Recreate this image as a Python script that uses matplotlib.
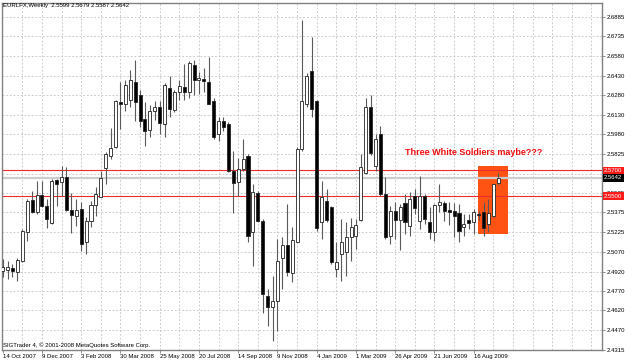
import matplotlib
matplotlib.use("Agg")
import matplotlib.pyplot as plt
from matplotlib.patches import Rectangle

# ---------------- data ----------------
title = "EURLFX,Weekly  2.5599 2.5679 2.5587 2.5642"
footer = "SIGTrader 4, \u00a9 2001-2008 MetaQuotes Software Corp."
annotation = "Three White Soldiers maybe???"

opens = [2.4927, 2.4934, 2.4950, 2.4919, 2.5003, 2.5226, 2.5471, 2.5379, 2.5510, 2.5425,
         2.5295, 2.5625, 2.5609, 2.5648, 2.5395, 2.5349, 2.5402, 2.5149, 2.5310, 2.5433,
         2.5494, 2.5717, 2.5809, 2.5878, 2.6223, 2.6215, 2.6246, 2.6384, 2.6277, 2.6093,
         2.6008, 2.6154, 2.6192, 2.6054, 2.6338, 2.6162, 2.6300, 2.6346, 2.6307, 2.6514,
         2.6399, 2.6407, 2.6384, 2.6238, 2.5977, 2.6077, 2.6054, 2.5694, 2.5609, 2.5709,
         2.5809, 2.5226, 2.5525, 2.5310, 2.4735, 2.4643, 2.4689, 2.5026, 2.5126, 2.4911,
         2.5149, 2.5862, 2.6208, 2.6468, 2.6238, 2.5303, 2.5464, 2.5418, 2.4942, 2.5057,
         2.5072, 2.5188, 2.5195, 2.5318, 2.5678, 2.6185, 2.5732, 2.5977, 2.5517, 2.5195,
         2.5387, 2.5318, 2.5448, 2.5272, 2.5502, 2.5310, 2.5502, 2.5303, 2.5226, 2.5433,
         2.5448, 2.5395, 2.5387, 2.5372, 2.5264, 2.5318, 2.5303, 2.5364, 2.5379, 2.5287,
         2.5349, 2.5599]
highs = [2.5019, 2.5003, 2.4980, 2.5026, 2.5249, 2.5479, 2.5540, 2.5617, 2.5617, 2.5479,
         2.5632, 2.5632, 2.5732, 2.5724, 2.5525, 2.5479, 2.5456, 2.5341, 2.5464, 2.5571,
         2.5694, 2.5839, 2.6024, 2.6246, 2.6384, 2.6399, 2.6476, 2.6553, 2.6323, 2.6223,
         2.6200, 2.6238, 2.6231, 2.6376, 2.6430, 2.6323, 2.6399, 2.6522, 2.6545, 2.6553,
         2.6461, 2.6491, 2.6576, 2.6254, 2.6108, 2.6108, 2.6070, 2.5847, 2.5793, 2.5939,
         2.5824, 2.5594, 2.5540, 2.5326, 2.4789, 2.4888, 2.5172, 2.5188, 2.5441, 2.5264,
         2.5878, 2.6860, 2.6453, 2.6729, 2.6246, 2.5617, 2.5556, 2.5425, 2.5149, 2.5326,
         2.5303, 2.5333, 2.5326, 2.5824, 2.6261, 2.6277, 2.5977, 2.6039, 2.5648, 2.5425,
         2.5456, 2.5441, 2.5517, 2.5533, 2.5556, 2.5655, 2.5517, 2.5418, 2.5441, 2.5594,
         2.5464, 2.5456, 2.5448, 2.5441, 2.5364, 2.5364, 2.5402, 2.5387, 2.5456, 2.5479,
         2.5594, 2.5679]
lows = [2.4881, 2.4865, 2.4881, 2.4850, 2.4996, 2.5157, 2.5372, 2.5364, 2.5418, 2.5257,
        2.5287, 2.5425, 2.5502, 2.5387, 2.5218, 2.5272, 2.5080, 2.5057, 2.5264, 2.5349,
        2.5494, 2.5594, 2.5786, 2.5870, 2.6016, 2.6154, 2.6185, 2.6077, 2.6031, 2.5885,
        2.5954, 2.6085, 2.5977, 2.5954, 2.6108, 2.6146, 2.6246, 2.6246, 2.6261, 2.6277,
        2.6292, 2.6300, 2.6208, 2.5939, 2.5924, 2.6001, 2.5686, 2.5372, 2.5502, 2.5694,
        2.5149, 2.4965, 2.5303, 2.4597, 2.4497, 2.4382, 2.4459, 2.4789, 2.4888, 2.4842,
        2.5149, 2.5847, 2.6192, 2.6108, 2.5234, 2.5172, 2.5303, 2.4980, 2.4881, 2.4850,
        2.4888, 2.5003, 2.5095, 2.5310, 2.5671, 2.5816, 2.5694, 2.5502, 2.5172, 2.5134,
        2.5172, 2.5088, 2.5211, 2.5195, 2.5364, 2.5249, 2.5287, 2.5172, 2.5157, 2.5379,
        2.5310, 2.5280, 2.5188, 2.5149, 2.5195, 2.5249, 2.5211, 2.5318, 2.5195, 2.5226,
        2.5341, 2.5587]
closes = [2.4957, 2.4957, 2.4927, 2.5011, 2.5234, 2.5464, 2.5379, 2.5510, 2.5425, 2.5326,
          2.5617, 2.5594, 2.5648, 2.5395, 2.5356, 2.5395, 2.5134, 2.5310, 2.5433, 2.5517,
          2.5640, 2.5824, 2.5870, 2.6238, 2.6208, 2.6361, 2.6399, 2.6223, 2.6077, 2.6001,
          2.6154, 2.6192, 2.6062, 2.6361, 2.6169, 2.6300, 2.6353, 2.6307, 2.6530, 2.6399,
          2.6415, 2.6392, 2.6215, 2.5954, 2.6077, 2.6031, 2.5694, 2.5602, 2.5709, 2.5786,
          2.5195, 2.5533, 2.5310, 2.4743, 2.4643, 2.4689, 2.5003, 2.5126, 2.4919, 2.5164,
          2.5862, 2.6238, 2.6430, 2.6169, 2.5257, 2.5494, 2.5318, 2.4996, 2.4996, 2.5149,
          2.5188, 2.5264, 2.5280, 2.5724, 2.6192, 2.5832, 2.5939, 2.5517, 2.5188, 2.5387,
          2.5318, 2.5418, 2.5303, 2.5479, 2.5410, 2.5502, 2.5326, 2.5226, 2.5433, 2.5456,
          2.5387, 2.5379, 2.5349, 2.5234, 2.5287, 2.5295, 2.5379, 2.5356, 2.5257, 2.5372,
          2.5594, 2.5642]

date_labels = ["14 Oct 2007", "9 Dec 2007", "3 Feb 2008", "30 Mar 2008", "25 May 2008",
               "20 Jul 2008", "14 Sep 2008", "9 Nov 2008", "4 Jan 2009", "1 Mar 2009",
               "26 Apr 2009", "21 Jun 2009", "16 Aug 2009"]
date_bars = [0, 8, 16, 24, 32, 40, 48, 56, 64, 72, 80, 88, 96]
price_labels = ["2.6885", "2.6735", "2.6580", "2.6430", "2.6280", "2.6130", "2.5980",
                "2.5825", "2.5675", "2.5525", "2.5375", "2.5225", "2.5070", "2.4920",
                "2.4770", "2.4620", "2.4470", "2.4315"]
levels = [2.5700, 2.5500]
last_price = 2.5642
box_bars = (96.9, 103.0)
box_prices = (2.5210, 2.5732)

# ---------------- figure ----------------
FONT = ["Liberation Sans", "DejaVu Sans"]
plt.rcParams["font.family"] = FONT
FS = 4.3

fig = plt.figure(figsize=(6.25, 3.63), dpi=100)
fig.patch.set_facecolor("white")
ax = fig.add_axes([2 / 625, 13 / 363, 600 / 625, 347 / 363])
ax.set_facecolor("white")
ax.set_xlim(-0.14, 122.15)
ax.set_ylim(2.43284, 2.69899)

grid_kw = dict(color="#c4c4c4", lw=0.6, ls=(0, (2.2, 2.2)), zorder=0)
for t in price_labels:
    ax.axhline(float(t), **grid_kw)
for b in range(4, 123, 4):
    ax.axvline(b, **grid_kw)

ax.add_patch(Rectangle((box_bars[0], box_prices[0]), box_bars[1] - box_bars[0],
                       box_prices[1] - box_prices[0], facecolor="#ff5314",
                       edgecolor="none", zorder=1))

ax.axhline(last_price, color="#cdcdcd", lw=1.6, zorder=1.5)
for lv in levels:
    ax.axhline(lv, color="#ee2a2a", lw=0.8, zorder=2)

w = 0.62
for i, (o, h, l, c) in enumerate(zip(opens, highs, lows, closes)):
    ax.vlines(i, l, h, color="#5a5a5a", lw=0.8, zorder=3)
    bull = c >= o
    bottom = min(o, c)
    height = abs(c - o)
    if height < 0.0003:
        ax.hlines(o, i - w / 2, i + w / 2, color="black", lw=1.0, zorder=4)
    else:
        ax.add_patch(Rectangle((i - w / 2, bottom), w, height,
                               facecolor="white" if bull else "black",
                               edgecolor="#222222", lw=0.6, zorder=4))

for s in ax.spines.values():
    s.set_color("#808080")
    s.set_linewidth(1.0)

ax.yaxis.tick_right()
ax.set_yticks([float(t) for t in price_labels])
ax.set_yticklabels(price_labels)
ax.tick_params(axis="y", length=2, width=0.6, pad=1.2, labelsize=FS,
               color="#808080", labelcolor="black")
ax.set_xticks(date_bars)
ax.set_xticklabels(date_labels, ha="left")
ax.tick_params(axis="x", length=2, width=0.6, pad=1, labelsize=FS,
               color="#808080", labelcolor="black")

ytr = ax.get_yaxis_transform()
for lv in levels:
    ax.text(1.0035, lv, f"{lv:.4f}", transform=ytr, ha="left", va="center",
            fontsize=FS, color="white", zorder=20, clip_on=False,
            bbox=dict(boxstyle="square,pad=0.22", fc="#ff1a1a", ec="none"))
ax.text(1.0035, last_price, f"{last_price:.4f}", transform=ytr, ha="left", va="center",
        fontsize=FS, color="white", zorder=21, clip_on=False,
        bbox=dict(boxstyle="square,pad=0.22", fc="black", ec="none"))

fig.text(3 / 625, 1 - 6 / 363, title, fontsize=FS, ha="left", va="center")
fig.text(3 / 625, 1 - 345 / 363, footer, fontsize=FS, ha="left", va="center", zorder=5)
ax.text(95.9, 2.5839, annotation, fontsize=6.5, fontweight="bold", color="#f01010",
        ha="center", va="center", zorder=6)

fig.savefig("out.png", dpi=100, facecolor="white")
